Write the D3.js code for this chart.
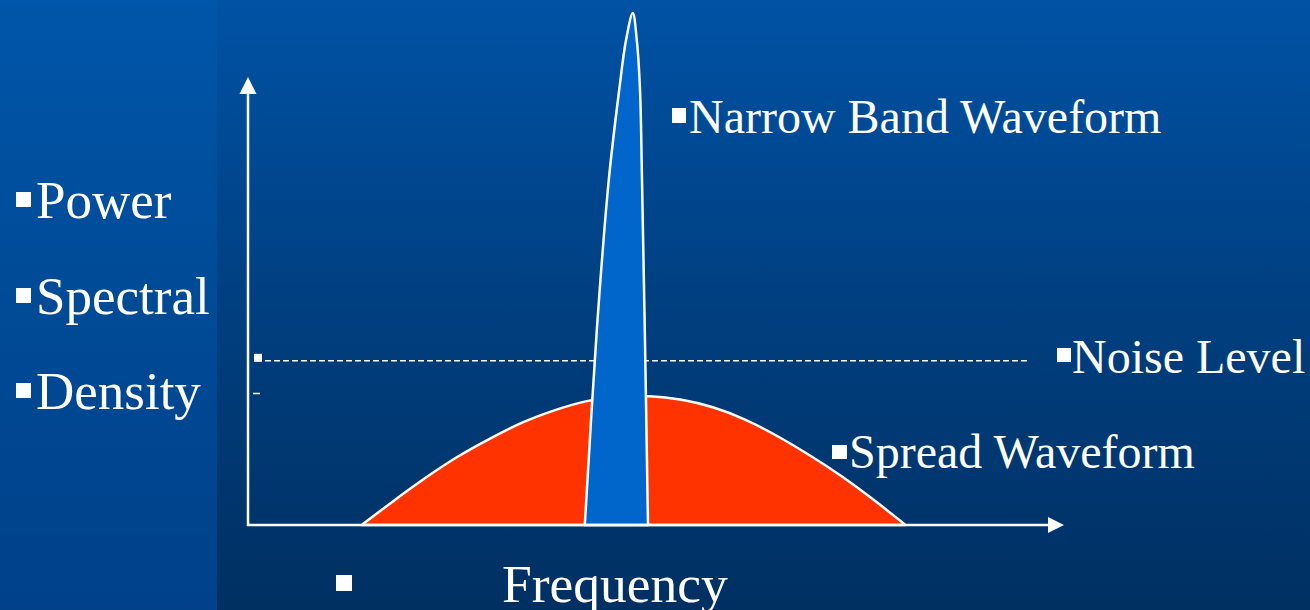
<!DOCTYPE html>
<html>
<head>
<meta charset="utf-8">
<script src="https://cdn.jsdelivr.net/npm/d3@7/dist/d3.min.js"></script>
<style>
  html, body { margin: 0; padding: 0; background: #003a78; }
  svg { display: block; }
  text { font-family: "Liberation Serif", "Times New Roman", serif; fill: #ffffff; }
</style>
</head>
<body>
<svg id="chart" width="1310" height="610"></svg>
<script>
// Spread-spectrum waveform (power spectral density vs frequency)
const spreadFreq  = [14.2, 18.2, 22.2, 26.2, 30.2, 34.2, 38.2, 42.2, 46.2, 50.2, 54.2, 58.2, 62.2, 66.2, 70.2, 74.2, 78.2, 82.2];
const spreadPower = [0, 4.7, 9.2, 13.3, 16.8, 19.9, 22.3, 24.1, 25.0, 25.1, 24.4, 22.9, 20.5, 17.3, 13.6, 9.5, 4.9, 0];

// Narrow band waveform, traced up its left flank and down its right flank
const narrowFreq  = [42.1, 43.6, 45.1, 46.4, 47.25, 48.1, 48.6, 49.0, 49.25, 49.6, 50.0];
const narrowPower = [0, 38.0, 67.3, 84.8, 94.5, 99.8, 94.5, 84.8, 67.3, 38.0, 0];

// Noise floor
const noiseLevel = 32;

// Axis label words (left side) and annotations
const axisWords = ["Power", "Spectral", "Density"];
const freqLabel = "Frequency";
const narrowLabel = "Narrow Band Waveform";
const noiseLabel = "Noise Level";
const spreadLabel = "Spread Waveform";

const svg = d3.select("#chart");
const W = 1310, H = 610;

// Background: slide gradient, with a slightly lighter left strip
const defs = svg.append("defs");
const gMain = defs.append("linearGradient").attr("id", "bgMain")
  .attr("x1", 0).attr("y1", 0).attr("x2", 0).attr("y2", 1);
gMain.append("stop").attr("offset", "0%").attr("stop-color", "#0052a5");
gMain.append("stop").attr("offset", "50%").attr("stop-color", "#003f80");
gMain.append("stop").attr("offset", "100%").attr("stop-color", "#003062");
const gLeft = defs.append("linearGradient").attr("id", "bgLeft")
  .attr("x1", 0).attr("y1", 0).attr("x2", 0).attr("y2", 1);
gLeft.append("stop").attr("offset", "0%").attr("stop-color", "#0056aa");
gLeft.append("stop").attr("offset", "50%").attr("stop-color", "#004a96");
gLeft.append("stop").attr("offset", "100%").attr("stop-color", "#00418a");

svg.append("rect").attr("x", 0).attr("y", 0).attr("width", W).attr("height", H).attr("fill", "url(#bgMain)");
svg.append("rect").attr("x", 0).attr("y", 0).attr("width", 217).attr("height", H).attr("fill", "url(#bgLeft)");

// Scales
const x = d3.scaleLinear().domain([0, 100]).range([248, 1048]);
const y = d3.scaleLinear().domain([0, 100]).range([525, 12]);

// Spread waveform hump
const spreadPts = spreadFreq.map((f, i) => [f, spreadPower[i]]);
const spreadArea = d3.area()
  .x(d => x(d[0]))
  .y0(y(0))
  .y1(d => y(d[1]))
  .curve(d3.curveNatural);
svg.append("path")
  .attr("d", spreadArea(spreadPts))
  .attr("fill", "#ff3300")
  .attr("stroke", "#ffffff")
  .attr("stroke-width", 2.5)
  .attr("stroke-linejoin", "round");

// Noise level dashed line with its marker
const yNoise = y(noiseLevel);
svg.append("line")
  .attr("x1", 265).attr("x2", 1027)
  .attr("y1", yNoise).attr("y2", yNoise)
  .attr("stroke", "#ffffff")
  .attr("stroke-width", 1.5)
  .attr("stroke-dasharray", "6,3");
svg.append("rect").attr("x", 254).attr("y", yNoise - 7).attr("width", 8).attr("height", 8).attr("fill", "#ffffff");
svg.append("line")
  .attr("x1", 253).attr("x2", 260)
  .attr("y1", 393.5).attr("y2", 393.5)
  .attr("stroke", "#ffffff").attr("stroke-width", 1.5);

// Narrow band spike
const narrowPts = narrowFreq.map((f, i) => [f, narrowPower[i]]);
const narrowLine = d3.line()
  .x(d => x(d[0]))
  .y(d => y(d[1]))
  .curve(d3.curveCatmullRom.alpha(0.5));
svg.append("path")
  .attr("d", narrowLine(narrowPts) + "Z")
  .attr("fill", "#0066cc")
  .attr("stroke", "#ffffff")
  .attr("stroke-width", 2.5)
  .attr("stroke-linejoin", "round");

// Axes with arrowheads
const axisColor = "#ffffff";
svg.append("line")
  .attr("x1", x(0)).attr("x2", x(0))
  .attr("y1", y(0) + 1).attr("y2", 92)
  .attr("stroke", axisColor).attr("stroke-width", 2.5);
svg.append("path")
  .attr("d", d3.line()([[x(0), 77], [x(0) - 8.5, 94], [x(0) + 8.5, 94]]) + "Z")
  .attr("fill", axisColor);
svg.append("line")
  .attr("x1", x(0) - 1).attr("x2", 1050)
  .attr("y1", y(0)).attr("y2", y(0))
  .attr("stroke", axisColor).attr("stroke-width", 2.5);
svg.append("path")
  .attr("d", d3.line()([[1064, y(0)], [1048, y(0) - 8], [1048, y(0) + 8]]) + "Z")
  .attr("fill", axisColor);

// Labels with square bullets
function bulletLabel(bx, by, bw, bh, tx, ty, size, txt) {
  svg.append("rect").attr("x", bx).attr("y", by).attr("width", bw).attr("height", bh).attr("fill", "#ffffff");
  if (txt) {
    svg.append("text").attr("x", tx).attr("y", ty)
      .attr("font-size", size).text(txt);
  }
}

const leftTops = [192, 288, 383];
const leftBase = [218, 314, 409];
axisWords.forEach((w, i) => bulletLabel(16, leftTops[i], 15, 15, 36, leftBase[i], 53, w));

bulletLabel(672, 108, 14, 15, 689, 133, 48, narrowLabel);
bulletLabel(1057, 348, 14, 14, 1072, 373, 48, noiseLabel);
bulletLabel(832, 445, 15, 14, 849, 468, 48, spreadLabel);
bulletLabel(336, 575, 16, 16, 502, 602, 53.5, freqLabel);
</script>
</body>
</html>
